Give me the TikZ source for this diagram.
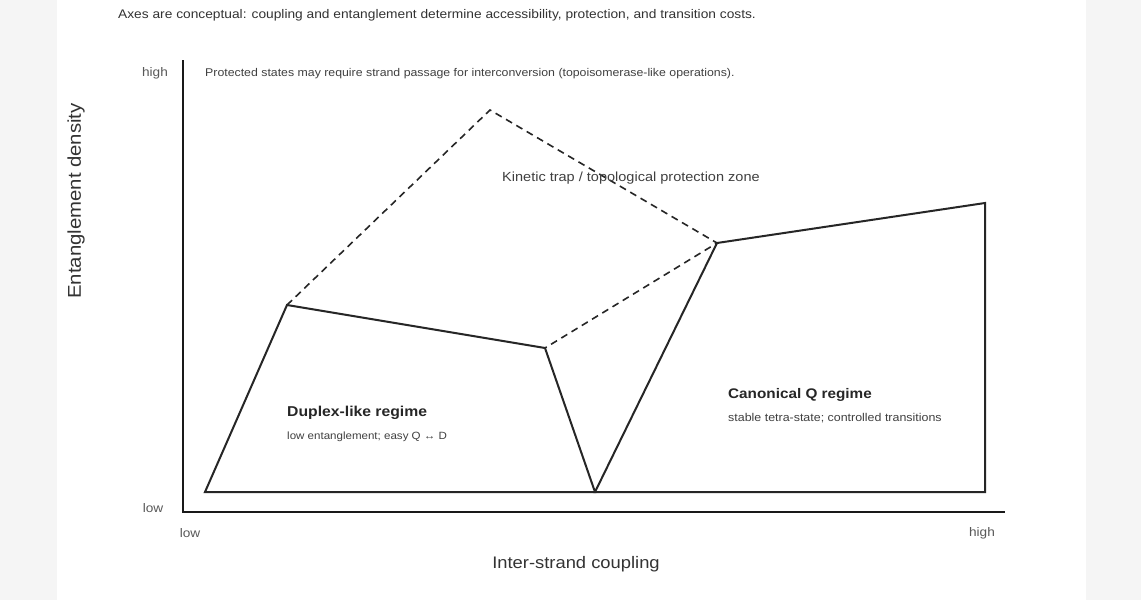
\documentclass[tikz,border=0pt]{standalone}
\usepackage{fontspec}
\setmainfont[FakeStretch=1.1]{Liberation Sans}
\begin{document}
\begin{tikzpicture}[x=1pt,y=-1pt,
  axisline/.style={line width=2.8pt, black!90},
  regionline/.style={line width=2pt, black!85, line join=miter},
  trapline/.style={line width=1.6pt, black!85, dash pattern=on 7pt off 5pt},
  ticklbl/.style={font=\fontsize{12.4}{14}\selectfont, text=black!65, inner sep=0pt},
  axislbl/.style={font=\fontsize{16.7}{19}\selectfont, text=black!80, inner sep=0pt},
  notelbl/.style={font=\fontsize{11.2}{13}\selectfont, text=black!75, inner sep=0pt, anchor=west},
  headlbl/.style={font=\bfseries\fontsize{14}{16}\selectfont, text=black!85, inner sep=0pt, anchor=west}]
\fill[black!4] (0,0) rectangle (1141,600);
\fill[white] (57,0) rectangle (1086,600);
\useasboundingbox (0,0) rectangle (1141,600);
\node[anchor=west, inner sep=0pt, font=\fontsize{12.5}{14}\selectfont, text=black!80] (title) at (118,15)
  {Axes are conceptual: coupling and entanglement determine accessibility, protection, and transition costs.};
% axes
\coordinate (origin) at (183,512);
\coordinate (ytop) at (183,60);
\coordinate (xend) at (1005,512);
\draw[axisline] (ytop) -- (origin) -- (xend);
\node[ticklbl] (yhigh) at (155,73) {high};
\node[ticklbl] (ylow) at (153,508) {low};
\node[ticklbl] (xlow) at (190,533) {low};
\node[ticklbl] (xhigh) at (982,533) {high};
\node[axislbl, rotate=90, font=\fontsize{18.5}{21}\selectfont] (ylabel) at (76,201) {Entanglement density};
\node[axislbl] (xlabel) at (576,564) {Inter-strand coupling};
% regions
\coordinate (d1) at (205,492);
\coordinate (d2) at (287,305);
\coordinate (d3) at (545,348);
\coordinate (d4) at (595,492);
\coordinate (q2) at (717,243);
\coordinate (q3) at (985,203);
\coordinate (q4) at (985,492);
\coordinate (peak) at (490,110);
\draw[regionline] (d1) -- (d2) -- (d3) -- (d4) -- cycle;
\draw[regionline] (d4) -- (q2) -- (q3) -- (q4) -- cycle;
\draw[trapline] (d2) -- (peak) -- (q2) -- (d3);
\node[notelbl] (protnote) at (205,74)
  {Protected states may require strand passage for interconversion (topoisomerase-like operations).};
\node[notelbl, font=\fontsize{13.2}{15}\selectfont] (trap) at (502,178) {Kinetic trap / topological protection zone};
\node[headlbl, font=\bfseries\fontsize{14.3}{16}\selectfont] (duplex) at (287,413) {Duplex-like regime};
\node[notelbl, font=\fontsize{10.5}{12}\selectfont] (duplexnote) at (287,437) {low entanglement; easy Q ↔ D};
\node[headlbl, font=\bfseries\fontsize{13.9}{16}\selectfont] (canon) at (728,395) {Canonical Q regime};
\node[notelbl, font=\fontsize{11.3}{13}\selectfont] (canonnote) at (728,418) {stable tetra-state; controlled transitions};
\end{tikzpicture}
\end{document}
